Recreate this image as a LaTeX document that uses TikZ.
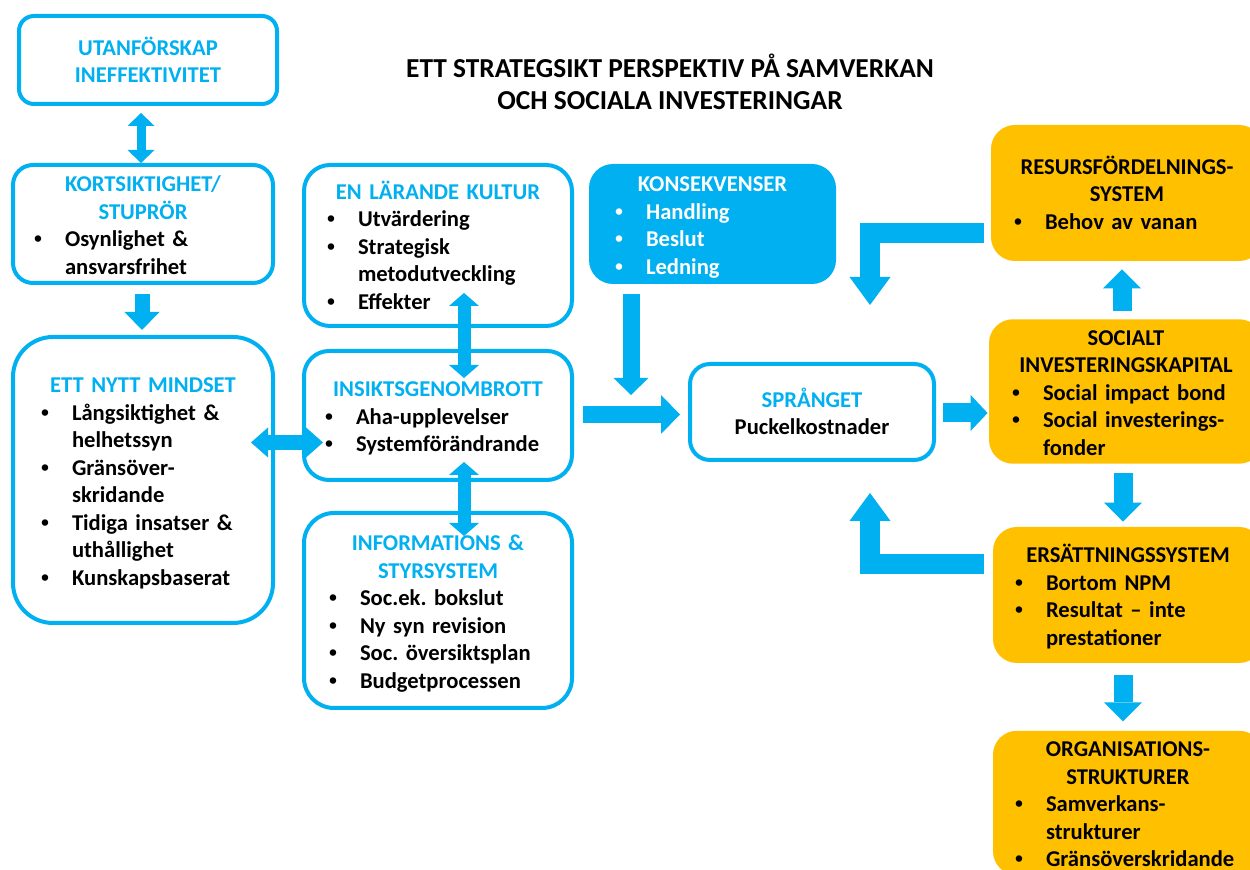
\documentclass[tikz,border=0pt]{standalone}
\usepackage{fontspec}
\setmainfont{Carlito}
\newfontfamily\bulfont{Liberation Sans}
\usetikzlibrary{arrows.meta,calc}

\definecolor{cblue}{RGB}{0,176,240}
\definecolor{corange}{RGB}{255,192,0}

% body font: bold, fixed leading, no hyphenation
\newcommand\bodyfont{\bfseries\fontsize{11.3pt}{13.75pt}\selectfont
  \hyphenpenalty=10000\exhyphenpenalty=10000\frenchspacing}
\newlength\bsep \setlength\bsep{15.5pt}
% taller first line, blue heading, plain heading, line break, bullet item
\newcommand\tp{\rule{0pt}{13.1pt}}
\newcommand\hd[1]{{\centering\color{cblue}\strut#1\strut\par}}
\newcommand\hdp[1]{{\centering\strut#1\strut\par}}
\newcommand\nl{\break}
\newcommand\bi[1]{\par\leftskip=0pt\rightskip=0pt plus 1fil\parfillskip=0pt plus 1fil
  \hangindent=\bsep\hangafter=1\noindent
  \makebox[\bsep][l]{\bulfont\textbullet}\strut#1\strut\par}

\tikzset{
  x=0.5pt, y=-0.5pt,
  box/.style={draw=cblue, line width=2pt, fill=white, inner sep=0pt,
              align=left, font=\bodyfont, text=black},
  sbox/.style={draw=none, fill=cblue, inner sep=0pt, align=left,
               font=\bodyfont, text=white},
  obox/.style={draw=none, fill=corange, inner sep=0pt, align=left,
               font=\bodyfont, text=black, rounded corners=12pt,
               text width=113pt},
  % arrow heads
  tU/.tip={Triangle[width=13.5pt,length=6.5pt,line width=0pt]},
  tD/.tip={Triangle[width=15pt,length=6.5pt,line width=0pt]},
  tH/.tip={Triangle[width=15pt,length=8.5pt,line width=0pt]},
  tK/.tip={Triangle[width=17.5pt,length=9pt,line width=0pt]},
  tC/.tip={Triangle[width=17.5pt,length=8.5pt,line width=0pt]},
  tS/.tip={Triangle[width=19.5pt,length=9.5pt,line width=0pt]},
  tR/.tip={Triangle[width=18pt,length=8.5pt,line width=0pt]},
  tL/.tip={Triangle[width=20.5pt,length=14pt,line width=0pt]},
  tV/.tip={Triangle[width=19pt,length=9.5pt,line width=0pt]},
  flow/.style={draw=cblue, line join=miter},
}

\begin{document}
\begin{tikzpicture}
\useasboundingbox (0,0) rectangle (1250,870);
\fill[white] (0,0) rectangle (1250,870);
\clip (0,0) rectangle (1250,870);

% heading
\node[font=\bfseries\fontsize{13.7pt}{16pt}\selectfont, align=center] (title)
  at (670,82) {ETT STRATEGSIKT PERSPEKTIV PÅ SAMVERKAN\\OCH SOCIALA INVESTERINGAR};

% left column
\node[box, rounded corners=7.5pt, minimum width=129pt, minimum height=44pt,
      text width=120pt] (utan) at (148,60)
  {\tp\hd{UTANFÖRSKAP\nl INEFFEKTIVITET}};
\node[box, rounded corners=10pt, minimum width=130pt, minimum height=59pt,
      text width=109pt] (korts) at (143,224)
  {\tp\hd{KORTSIKTIGHET/\nl STUPRÖR}\bi{Osynlighet \&\nl ansvarsfrihet}};
\node[box, rounded corners=20pt, minimum width=130pt, minimum height=143pt,
      text width=102pt] (mindset) at (143,480)
  {\tp\hd{ETT NYTT MINDSET}\bi{Långsiktighet \&\nl helhetssyn}\bi{Gränsöver-\nl skridande}%
   \bi{Tidiga insatser \&\nl uthållighet}\bi{Kunskapsbaserat}};

% middle column
\node[box, rounded corners=13pt, minimum width=134pt, minimum height=80.5pt,
      text width=111pt] (larande) at (438,245.5)
  {\tp\hd{EN LÄRANDE KULTUR}\bi{Utvärdering}\bi{Strategisk\nl metodutveckling}\bi{Effekter}};
\node[box, rounded corners=12.5pt, minimum width=134pt, minimum height=64.5pt,
      text width=113pt] (insikts) at (438,415.5)
  {\tp\hd{INSIKTSGENOMBROTT}\bi{Aha-upplevelser}\bi{Systemförändrande}};
\node[box, rounded corners=15pt, minimum width=134pt, minimum height=97.5pt,
      text width=109pt] (info) at (438,610.5)
  {\tp\hd{INFORMATIONS \&\nl STYRSYSTEM}\bi{Soc.ek. bokslut}\bi{Ny syn revision}%
   \bi{Soc. översiktsplan}\bi{Budgetprocessen}};

% consequences and the leap
\node[sbox, rounded corners=12pt, minimum width=123.5pt, minimum height=60pt,
      text width=97.5pt] (kons) at (712.5,224)
  {\tp\hdp{KONSEKVENSER}\bi{Handling}\bi{Beslut}\bi{Ledning}};
\node[box, rounded corners=10pt, minimum width=122pt, minimum height=48pt,
      text width=110pt] (sprang) at (812,412)
  {\tp\hd{SPRÅNGET}\hdp{Puckelkostnader}};

% right column
\node[obox, minimum width=136pt, minimum height=68pt] (resurs) at (1127,193)
  {\tp\hdp{RESURSFÖRDELNINGS-\nl SYSTEM}\bi{Behov av vanan}};
\node[obox, minimum width=137pt, minimum height=68.5pt, text width=114pt]
  (socialt) at (1126,391.5)
  {\tp\hdp{SOCIALT\nl INVESTERINGSKAPITAL}\bi{Social impact bond}\bi{Social investerings-\nl fonder}};
\node[obox, minimum width=135pt, minimum height=68pt] (ersatt) at (1128,595)
  {\tp\hdp{ERSÄTTNINGSSYSTEM}\bi{Bortom NPM}\bi{Resultat – inte\nl prestationer}};
\node[obox, minimum width=135pt, minimum height=72pt] (org) at (1128,803)
  {\tp\hdp{ORGANISATIONS-\nl STRUKTURER}\bi{Samverkans-\nl strukturer}\bi{Gränsöverskridande}};

% free ends of the open arrows
\coordinate (kEnd) at (631,395);
\coordinate (rEnd) at (870,305);
\coordinate (eEnd) at (870,493);

% connectors
\draw[flow, line width=4.5pt, arrows={tU-tU}]
  ($(korts.north |- utan.south)+(-2,7)$) -- ($(korts.north)+(-2,0)$);
\draw[flow, line width=7.5pt, arrows={-tK}]
  ($(korts.south)+(-1,9)$) -- ($(mindset.north)+(-1,-5)$);
\draw[flow, line width=6.5pt, arrows={tD-tD}]
  ($(larande.south)+(26,-35)$) -- ($(insikts.north)+(26,29)$);
\draw[flow, line width=6.5pt, arrows={tD-tD}]
  ($(insikts.south)+(26,-20)$) -- ($(info.north)+(26,25)$);
\draw[flow, line width=7.5pt, arrows={tH-tH}]
  ($(mindset.east |- insikts.center)+(-24,27)$) -- ($(insikts.west)+(21,27)$);
\draw[flow, line width=8.5pt, arrows={-tC}]
  ($(kons.south)+(-81.5,10)$) -- (kEnd);
\draw[flow, line width=8.5pt, arrows={-tS}]
  ($(insikts.east)+(9,-1)$) -- ($(insikts.east -| sprang.west)+(-8,-1)$);
\draw[flow, line width=9.5pt, arrows={-tR}]
  ($(sprang.east)+(7,1)$) -- ($(sprang.east -| socialt.west)+(-1,1)$);
\draw[flow, line width=10pt, arrows={-tL}]
  ($(resurs.west)+(-7,40)$) -| (rEnd);
\draw[flow, line width=9.5pt, arrows={-tV}]
  ($(socialt.north)+(-4,-8)$) -- ($(resurs.south)+(-5,8)$);
\draw[flow, line width=9.5pt, arrows={-tV}]
  ($(socialt.south)+(-3,9)$) -- ($(ersatt.north)+(-5,-5)$);
\draw[flow, line width=10pt, arrows={-tL}]
  ($(ersatt.west)+(-9,-31)$) -| (eEnd);
\draw[flow, line width=9.5pt, arrows={-tV}]
  ($(ersatt.south)+(-5,12)$) -- ($(org.north)+(-5,-9)$);
\end{tikzpicture}
\end{document}
